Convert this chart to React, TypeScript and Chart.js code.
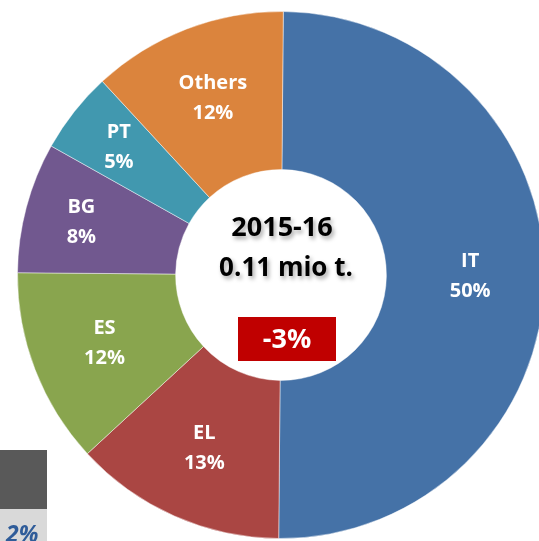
import React, { useEffect, useRef } from "react";
import { Chart, registerables } from "chart.js";

Chart.register(...registerables);

const categories = ["IT", "EL", "ES", "BG", "PT", "Others"];
const shares = [50, 13, 12, 8, 5, 12];
const colors = ["#4572A7", "#AA4643", "#89A54E", "#71588F", "#4198AF", "#DB843D"];
const centerTitle = "2015-16";
const centerVolume = "0.11 mio t.";
const centerChange = "-3%";
const sideValue = "2%";

const FONT = "'Open Sans', Lato, sans-serif";

const labelPlugin = {
  id: "sliceLabels",
  afterDatasetsDraw(chart: any) {
    const ctx = chart.ctx;
    const meta = chart.getDatasetMeta(0);
    ctx.save();
    ctx.fillStyle = "#FFFFFF";
    ctx.textAlign = "center";
    ctx.textBaseline = "middle";
    ctx.font = `bold 20px ${FONT}`;
    meta.data.forEach((arc: any, i: number) => {
      const { x, y, startAngle, endAngle, innerRadius, outerRadius } = arc.getProps(
        ["x", "y", "startAngle", "endAngle", "innerRadius", "outerRadius"],
        true
      );
      const span = endAngle - startAngle;
      const mid = (startAngle + endAngle) / 2;
      const f = span < 0.6 ? 0.64 : 0.53;
      const r = innerRadius + (outerRadius - innerRadius) * f;
      const lx = x + Math.cos(mid) * r;
      const ly = y + Math.sin(mid) * r;
      ctx.fillText(categories[i], lx, ly - 15);
      ctx.fillText(`${shares[i]}%`, lx, ly + 15);
    });
    ctx.restore();
  },
  afterDraw(chart: any) {
    const ctx = chart.ctx;
    const meta = chart.getDatasetMeta(0);
    const arc = meta.data[0];
    const cx = arc.x;
    const cy = arc.y;
    ctx.save();
    ctx.textAlign = "center";
    ctx.textBaseline = "middle";
    ctx.shadowColor = "rgba(0,0,0,0.35)";
    ctx.shadowBlur = 4;
    ctx.shadowOffsetX = 2;
    ctx.shadowOffsetY = 3;
    ctx.fillStyle = "#000000";
    ctx.font = `bold 27px ${FONT}`;
    ctx.fillText(centerTitle, cx + 1, cy - 47);
    ctx.font = `bold 26px ${FONT}`;
    ctx.fillText(centerVolume, cx + 5, cy - 6);
    ctx.shadowColor = "transparent";
    ctx.shadowBlur = 0;
    ctx.shadowOffsetX = 0;
    ctx.shadowOffsetY = 0;
    ctx.fillStyle = "#C00000";
    ctx.fillRect(cx - 43, cy + 42, 98, 44);
    ctx.fillStyle = "#FFFFFF";
    ctx.font = `bold 27px ${FONT}`;
    ctx.fillText(centerChange, cx + 6, cy + 65);
    ctx.fillStyle = "#595959";
    ctx.fillRect(0, 450, 47, 59);
    ctx.fillStyle = "#D9D9D9";
    ctx.fillRect(0, 509, 47, 40);
    ctx.fillStyle = "#2F5C99";
    ctx.font = `italic bold 23px ${FONT}`;
    ctx.textAlign = "left";
    ctx.textBaseline = "alphabetic";
    ctx.fillText(sideValue, 6, 542);
    ctx.restore();
  },
};

export default function App() {
  const ref = useRef<HTMLCanvasElement | null>(null);
  useEffect(() => {
    if (!ref.current) return;
    const chart = new Chart(ref.current, {
      type: "doughnut",
      data: {
        labels: categories,
        datasets: [
          {
            data: shares,
            backgroundColor: colors,
            borderColor: "rgba(255,255,255,0.45)",
            borderWidth: 1,
          },
        ],
      },
      options: {
        responsive: false,
        animation: false,
        cutout: "40%",
        rotation: 0.5,
        layout: { padding: { left: 17, top: 11, right: 15, bottom: 2 } },
        plugins: {
          legend: { display: false },
          tooltip: { enabled: false },
        },
      },
      plugins: [labelPlugin],
    });
    return () => chart.destroy();
  }, []);
  return (
    <div
      style={{
        position: "fixed",
        left: 0,
        top: 0,
        width: 539,
        height: 541,
        overflow: "hidden",
        background: "#FFFFFF",
      }}
    >
      <canvas ref={ref} width={560} height={541} style={{ display: "block" }} />
    </div>
  );
}
